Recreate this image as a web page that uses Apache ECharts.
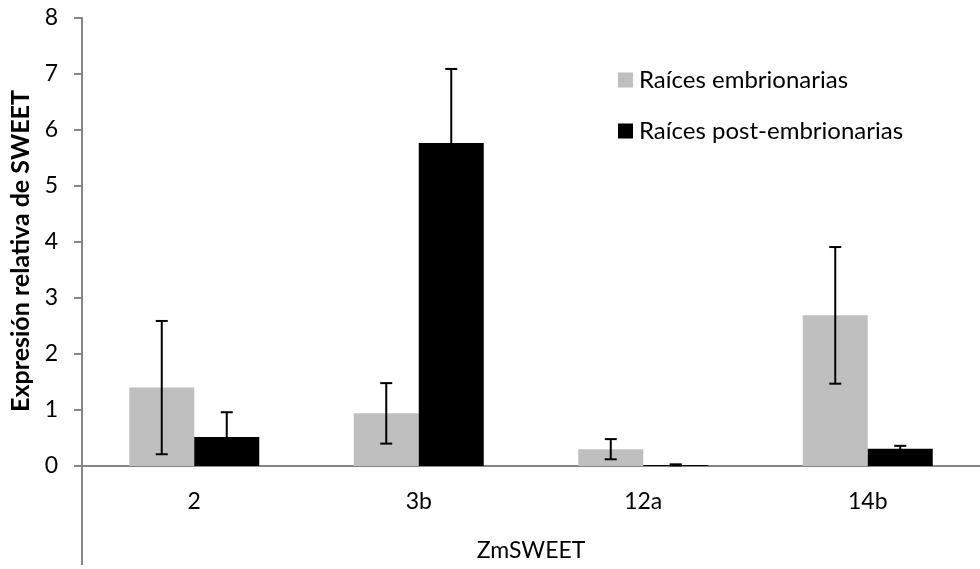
<!DOCTYPE html>
<html><head><meta charset="utf-8">
<script src="https://cdn.jsdelivr.net/npm/echarts@6/dist/echarts.min.js"></script>
<style>html,body{margin:0;padding:0;background:#fff}#c{width:980px;height:569px}</style>
</head><body><div id="c"></div>
<script>
const categories = ['2', '3b', '12a', '14b'];
const seriesNames = ['Raíces embrionarias', 'Raíces post-embrionarias'];
const embrionarias = [1.40, 0.94, 0.30, 2.69];
const embrionariasErr = [1.19, 0.54, 0.18, 1.22];
const postEmbrionarias = [0.52, 5.77, 0.02, 0.31];
const postEmbrionariasErr = [0.44, 1.32, 0.01, 0.05];
const yMin = 0, yMax = 8, yStep = 1;
const yTitle = 'Expresión relativa de SWEET';
const xTitle = 'ZmSWEET';

const FONT = 'Lato';
const BAR_W = 65;
const GRID = {left: 82, top: 18, bottom: 103, right: -11};

function errData(vals, errs) {
  return vals.map((v, i) => [i, v, errs[i]]);
}
function errSeries(vals, errs, offset) {
  return {
    type: 'custom', z: 10, silent: true,
    data: errData(vals, errs),
    renderItem: function (params, api) {
      const i = api.value(0), v = api.value(1), e = api.value(2);
      const top = api.coord([i, v + e]);
      const bot = api.coord([i, v - e]);
      const x = top[0] + offset;
      const cw = 6;
      const st = {stroke: '#000', lineWidth: 2};
      return {type: 'group', children: [
        {type: 'line', shape: {x1: x, y1: top[1], x2: x, y2: bot[1]}, style: st},
        {type: 'line', shape: {x1: x - cw, y1: top[1], x2: x + cw, y2: top[1]}, style: st},
        {type: 'line', shape: {x1: x - cw, y1: bot[1], x2: x + cw, y2: bot[1]}, style: st}
      ]};
    }
  };
}

const chart = echarts.init(document.getElementById('c'));
chart.setOption({
  animation: false,
  backgroundColor: '#fff',
  textStyle: {fontFamily: FONT},
  grid: GRID,
  legend: {
    orient: 'vertical', left: 618, top: 68, padding: 0,
    itemWidth: 15, itemHeight: 15, itemGap: 27,
    icon: 'rect',
    textStyle: {fontFamily: FONT, fontSize: 24, color: '#000', padding: [0, 0, 0, 1]},
    data: seriesNames
  },
  xAxis: {
    type: 'category', data: categories,
    axisLine: {lineStyle: {color: '#868686', width: 2}},
    axisTick: {show: false},
    axisLabel: {fontFamily: FONT, fontSize: 23, color: '#000', margin: 24},
    name: xTitle, nameLocation: 'middle', nameGap: 73,
    nameTextStyle: {fontFamily: FONT, fontSize: 23, color: '#000'}
  },
  yAxis: {
    type: 'value', min: yMin, max: yMax, interval: yStep,
    axisLine: {show: true, lineStyle: {color: '#868686', width: 2}},
    axisTick: {show: true, length: 8, lineStyle: {color: '#868686', width: 2}},
    splitLine: {show: false},
    axisLabel: {fontFamily: FONT, fontSize: 23, color: '#000', margin: 24}
  },
  series: [
    {name: seriesNames[0], type: 'bar', data: embrionarias, barWidth: BAR_W, barGap: '0%',
     itemStyle: {color: '#bfbfbf'}},
    {name: seriesNames[1], type: 'bar', data: postEmbrionarias, barWidth: BAR_W, barGap: '0%',
     itemStyle: {color: '#000'}},
    errSeries(embrionarias, embrionariasErr, -BAR_W / 2),
    errSeries(postEmbrionarias, postEmbrionariasErr, BAR_W / 2)
  ]
});
// extend the vertical axis line below the horizontal axis, as in the reference
const y0 = chart.convertToPixel({yAxisIndex: 0}, yMin);
chart.setOption({
  graphic: [
    {type: 'line', shape: {x1: GRID.left, y1: y0, x2: GRID.left, y2: y0 + 99},
     style: {stroke: '#868686', lineWidth: 2}, z: 5},
    {type: 'text', x: 21, y: 251, rotation: Math.PI / 2,
     style: {text: yTitle, fontFamily: FONT, fontSize: 25, fontWeight: 'bold', fill: '#000',
             align: 'center', verticalAlign: 'middle'}}
  ]
});
</script></body></html>
